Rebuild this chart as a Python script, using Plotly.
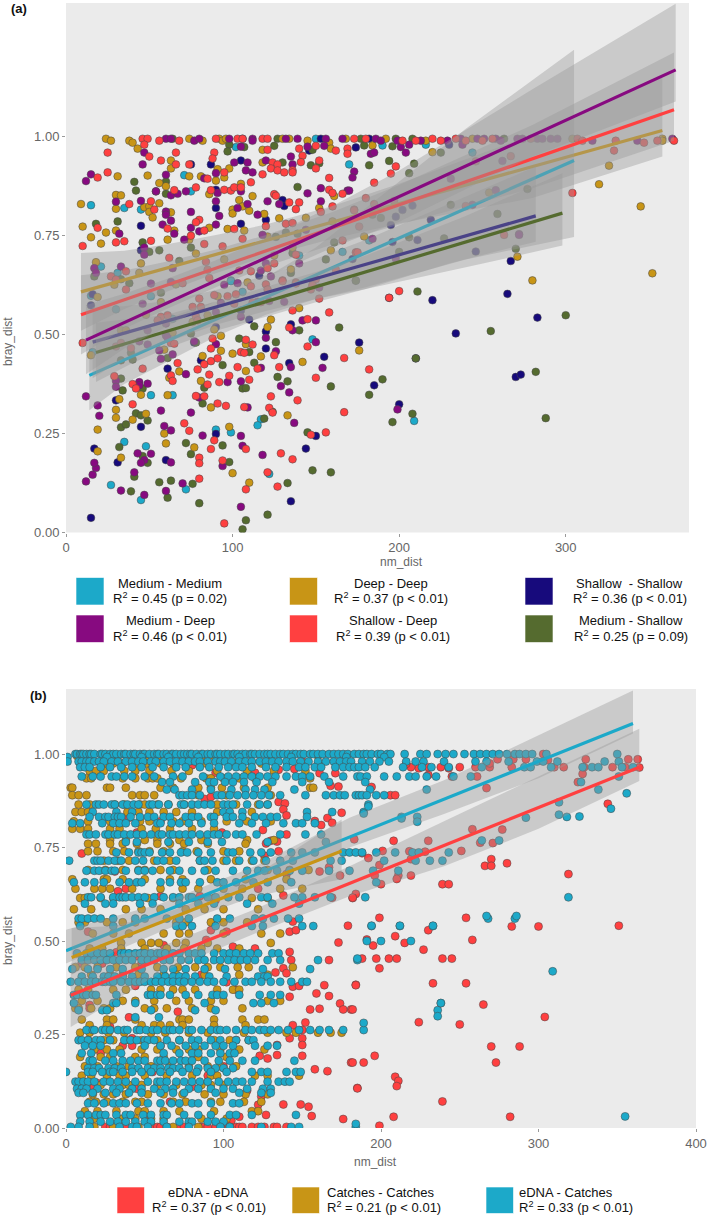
import plotly.graph_objects as go

W, H = 709, 1216

# ---------- panel (a) points: (nm_dist, bray_dist) ----------
medium_medium = [(102,.974),(15,.827),(35,.82),(45,.816),(71,.903),(75,.862),(21,.672),(31,.656),(99,.637),(15,.598),(30,.564),(51,.597),(106,.608),(99,.635),(16,.456),(148,.488),(51,.347),(64,.347),(117,.286),(115,.271),(90,.26),(99,.253),(35,.229),(48,.218),(122,.148),(72,.109),(45,.082),(27,.12),(209,.282),(140,.7),(216,.98),(190,.978),(244,.96),(170,.93),(182,.738),(166,.709),(64,.54),(150,.995)]
shallow_shallow = [(153,.995),(182,.995),(75,.93),(87,.93),(105,.94),(146,.965),(174,.973),(90,.866),(130,.84),(131,.825),(90,.82),(45,.775),(105,.78),(120,.79),(45,.713),(116,.649),(202,.815),(208,.826),(198,.798),(195,.777),(219,.79),(211,.739),(196,.734),(172,.691),(246,.71),(267,.686),(16,.602),(15,.574),(105,.561),(110,.538),(135,.526),(90,.519),(120,.508),(77,.48),(120,.465),(155,.444),(176,.48),(134,.428),(81,.435),(61,.414),(30,.334),(45,.267),(150,.244),(90,.249),(144,.212),(17,.212),(31,.177),(60,.183),(135,.079),(15,.037),(230,.98),(194,.593),(220,.587),(265,.603),(283,.543),(234,.503),(210,.44),(185,.372),(200,.324),(270,.393),(273,.399)]
medium_shallow = [(64,.995),(127,.995),(177,.995),(198,.995),(208,.995),(263,.995),(98,.98),(97,.963),(107,.974),(125,.977),(130,.935),(147,.928),(148,.967),(152,.933),(41,.886),(60,.887),(42,.864),(54,.862),(60,.856),(139,.873),(18,.78),(31,.786),(46,.733),(75,.72),(50,.709),(56,.713),(68,.686),(126,.747),(132,.758),(139,.755),(136,.706),(161,.733),(156,.69),(135,.656),(17,.647),(33,.64),(38,.63),(57,.606),(174,.637),(179,.978),(196,.976),(182,.928),(194,.939),(209,.932),(206,.908),(225,.96),(277,.868),(231,.828),(259,.805),(184,.803),(189,.795),(206,.746),(227,.743),(200,.709),(270,.717),(174,.636),(211,.609),(113,.521),(164,.518),(140,.511),(75,.503),(126,.481),(104,.49),(78,.48),(110,.456),(39,.454),(33,.435),(40,.437),(61,.441),(113,.429),(94,.423),(159,.369),(127,.393),(133,.382),(106,.364),(108,.365),(34,.359),(33,.389),(46,.364),(83,.366),(82,.326),(124,.305),(119,.288),(42,.301),(45,.296),(49,.283),(33,.266),(36,.273),(145,.253),(32,.216),(72,.226),(94,.22),(75,.198),(46,.193),(49,.176),(98,.178),(41,.141),(148,.157),(159,.152),(133,.125),(76,.123),(63,.131),(56,.127),(39,.104),(61,.088),(80,.074),(121,.045),(108,.031),(106,.008),(300,.549),(255,.509),(210,.44),(190,.387),(182,.348),(208,.3),(196,.279),(282,.406),(288,.289)]
deep_deep = [(24,.995),(27,.99),(38,.99),(40,.985),(74,.995),(82,.99),(92,.995),(94,.99),(96,.995),(130,.995),(134,.995),(145,.99),(158,.985),(168,.995),(192,.995),(216,.99),(244,.995),(304,.995),(358,.995),(43,.97),(63,.94),(63,.92),(98,.92),(118,.967),(118,.935),(159,.97),(31,.9),(49,.902),(56,.883),(60,.875),(74,.9),(81,.9),(91,.918),(95,.897),(90,.889),(105,.881),(86,.855),(112,.85),(104,.84),(9,.83),(30,.853),(33,.852),(30,.818),(47,.822),(50,.824),(50,.81),(56,.832),(52,.796),(63,.809),(100,.816),(100,.806),(106,.824),(110,.813),(119,.805),(161,.85),(152,.82),(10,.773),(15,.746),(24,.758),(30,.763),(21,.73),(65,.763),(86,.77),(74,.74),(97,.767),(107,.763),(128,.794),(121,.748),(144,.795),(160,.786),(61,.74),(78,.705),(95,.69),(136,.72),(125,.7),(135,.665),(159,.713),(18,.683),(44,.656),(45,.68),(29,.626),(109,.632),(220,.961),(184,.978),(326,.927),(320,.88),(345,.824),(352,.655),(254,.859),(179,.748),(271,.697),(280,.637),(66,.627),(57,.582),(19,.595),(91,.597),(140,.567),(48,.55),(85,.549),(33,.511),(36,.511),(64,.505),(76,.532),(15,.448),(123,.538),(121,.519),(89,.513),(93,.497),(108,.476),(93,.459),(100,.452),(117,.445),(59,.462),(82,.446),(142,.431),(176,.46),(68,.407),(108,.408),(62,.391),(81,.383),(45,.348),(61,.347),(32,.337),(87,.316),(30,.31),(30,.29),(48,.3),(40,.285),(133,.296),(59,.25),(19,.26),(60,.225),(98,.267),(77,.215),(19,.205),(33,.189),(100,.15),(110,.126),(358,.99)]
shallow_deep = [(46,.995),(49,.995),(56,.99),(68,.99),(90,.995),(103,.995),(106,.995),(118,.995),(121,.995),(173,.995),(180,.995),(202,.99),(210,.99),(220,.995),(225,.99),(234,.995),(240,.99),(250,.99),(256,.995),(279,.995),(307,.995),(310,.99),(330,.99),(347,.985),(355,.99),(365,.99),(25,.96),(47,.98),(50,.95),(57,.94),(66,.96),(66,.93),(74,.93),(89,.96),(88,.945),(124,.935),(127,.93),(123,.92),(127,.915),(131,.91),(136,.915),(136,.91),(118,.905),(121,.967),(140,.97),(150,.977),(162,.965),(169,.97),(169,.957),(142,.952),(141,.936),(150,.92),(152,.94),(19,.897),(25,.91),(85,.894),(95,.91),(65,.865),(78,.872),(87,.865),(95,.866),(99,.864),(101,.872),(105,.872),(111,.885),(158,.866),(160,.858),(158,.896),(125,.855),(126,.851),(38,.83),(51,.837),(53,.816),(134,.834),(140,.834),(138,.817),(19,.77),(30,.733),(35,.736),(10,.724),(51,.737),(61,.768),(80,.79),(78,.784),(75,.75),(83,.763),(101,.767),(120,.774),(132,.78),(136,.782),(106,.742),(83,.729),(94,.723),(160,.824),(166,.856),(153,.81),(173,.816),(166,.738),(62,.694),(84,.684),(138,.702),(125,.68),(121,.668),(130,.637),(138,.632),(111,.66),(148,.626),(150,.64),(162,.664),(174,.708),(27,.647),(36,.66),(30,.639),(70,.63),(85,.664),(86,.643),(104,.662),(329,.965),(246,.938),(267,.951),(198,.925),(195,.907),(185,.884),(304,.858),(240,.825),(180,.845),(197,.838),(185,.83),(173,.814),(176,.773),(263,.752),(175,.708),(200,.61),(194,.593),(36,.614),(111,.622),(89,.6),(97,.597),(102,.602),(120,.627),(121,.614),(130,.635),(138,.629),(147,.614),(148,.625),(152,.591),(80,.591),(76,.57),(81,.57),(101,.578),(112,.581),(117,.582),(136,.561),(158,.556),(145,.539),(134,.518),(57,.545),(61,.549),(55,.536),(78,.546),(79,.536),(63,.479),(65,.477),(39,.466),(30,.47),(33,.479),(10,.479),(88,.49),(87,.465),(108,.487),(112,.475),(105,.456),(107,.454),(125,.448),(115,.414),(128,.418),(145,.47),(167,.441),(150,.391),(123,.344),(139,.334),(167,.304),(122,.315),(124,.303),(147,.247),(156,.253),(136,.185),(129,.2),(121,.152),(127,.116),(95,.023),(108,.109),(80,.136),(29,.395),(40,.375),(42,.364),(46,.414),(63,.397),(64,.383),(67,.428),(83,.425),(87,.433),(79,.412),(91,.44),(103,.418),(86,.399),(85,.374),(78,.345),(83,.344),(91,.326),(92,.38),(98,.396),(110,.386),(107,.317),(96,.32),(40,.324),(71,.276),(74,.257),(89,.233),(108,.211),(87,.211),(80,.189),(80,.175),(94,.182),(182,.412)]
medium_deep = [(60,.995),(63,.995),(77,.99),(80,.995),(98,.995),(106,.995),(112,.995),(132,.995),(139,.995),(156,.995),(166,.995),(186,.995),(189,.99),(199,.99),(213,.99),(229,.99),(237,.995),(247,.995),(251,.995),(258,.995),(261,.99),(271,.995),(274,.995),(283,.995),(286,.995),(291,.995),(295,.995),(316,.99),(343,.99),(364,.995),(47,.96),(46,.93),(101,.935),(109,.935),(108,.915),(112,.91),(120,.94),(136,.93),(135,.95),(145,.975),(155,.977),(105,.975),(112,.99),(15,.905),(12,.888),(60,.904),(83,.895),(90,.908),(54,.862),(63,.852),(67,.856),(72,.862),(91,.858),(105,.862),(145,.857),(153,.87),(121,.837),(128,.83),(30,.836),(45,.838),(60,.811),(60,.803),(75,.81),(90,.837),(92,.8),(103,.82),(109,.83),(115,.803),(32,.755),(58,.778),(63,.788),(65,.755),(71,.74),(75,.77),(80,.761),(90,.778),(144,.765),(118,.752),(153,.837),(169,.864),(47,.72),(47,.702),(140,.68),(120,.68),(152,.619),(117,.662),(123,.647),(17,.668),(18,.656),(33,.672),(64,.668),(51,.629),(63,.633),(95,.626),(103,.63),(201,.974),(206,.98),(238,.98),(183,.957),(185,.96),(204,.96),(262,.939),(173,.912),(172,.897),(231,.894),(258,.865),(170,.864),(244,.828),(184,.742),(272,.754),(198,.692),(46,.578),(93,.58),(115,.583),(122,.585),(131,.583),(90,.557),(105,.545),(142,.536),(150,.536),(60,.528),(136,.511),(49,.511),(120,.492),(44,.483),(49,.475),(60,.498),(61,.492),(77,.483),(90,.476),(150,.481),(126,.458),(64,.45),(57,.439),(56,.46),(117,.416),(135,.418),(154,.416),(72,.4),(97,.38),(105,.382),(30,.383),(30,.368),(44,.38),(44,.372),(49,.376),(80,.341),(129,.37),(134,.354),(109,.316),(75,.303),(57,.308),(137,.277),(82,.245),(59,.269),(63,.258),(105,.244),(20,.295),(19,.321),(12,.344),(106,.219),(118,.196),(43,.2),(51,.199),(47,.183),(45,.176),(63,.177),(94,.168),(41,.152),(12,.129),(16,.146),(18,.163),(17,.176),(70,.124),(60,.105),(47,.095),(33,.106),(105,.065),(199,.311),(272,.752)]

# ---------- panel (a) fitted lines: [x0, x1], [y0, y1] ----------
a_deep_x, a_deep_y = [9, 358], [.608, 1.016]
a_medium_x, a_medium_y = [14, 305], [.397, .94]
a_shallow_x, a_shallow_y = [16, 282], [.481, .80]
a_shdeep_x, a_shdeep_y = [9, 365], [.55, 1.068]
a_medshal_x, a_medshal_y = [18, 298], [.455, .807]
a_meddeep_x, a_meddeep_y = [12, 366], [.486, 1.169]

# ---------- panel (a) ribbons ----------
rib_deep_x = [9, 35, 60, 90, 120, 160, 200, 280, 358]
rib_deep_hi = [.706, .712, .728, .752, .778, .825, .881, 1.005, 1.15]
rib_deep_lo = [.51, .565, .608, .655, .698, .742, .781, .845, .95]
rib_medium_x = [14, 35, 60, 90, 120, 150, 180, 240, 305]
rib_medium_hi = [.485, .505, .54, .585, .645, .72, .82, 1.02, 1.22]
rib_medium_lo = [.309, .375, .43, .495, .55, .59, .62, .69, .747]
rib_shallow_x = [16, 35, 60, 90, 120, 150, 180, 230, 282]
rib_shallow_hi = [.57, .572, .585, .613, .65, .692, .74, .83, .925]
rib_shallow_lo = [.39, .44, .48, .525, .56, .59, .615, .68, .735]
rib_shdeep_x = [9, 35, 60, 90, 120, 160, 200, 280, 365]
rib_shdeep_hi = [.65, .662, .684, .715, .752, .81, .878, 1.03, 1.213]
rib_shdeep_lo = [.45, .515, .564, .62, .672, .728, .778, .87, .99]
rib_medshal_x = [18, 40, 60, 90, 120, 150, 180, 240, 298]
rib_medshal_hi = [.53, .54, .55, .583, .62, .658, .70, .80, .908]
rib_medshal_lo = [.38, .428, .465, .51, .545, .582, .615, .67, .725]
rib_meddeep_x = [12, 35, 60, 90, 120, 160, 200, 280, 366]
rib_meddeep_hi = [.575, .603, .64, .688, .745, .825, .915, 1.12, 1.336]
rib_meddeep_lo = [.40, .465, .52, .585, .645, .72, .785, .95, 1.089]

# ---------- panel (b) points: rows of (bray_dist, [nm_dist, ...]) ----------
catches_edna_rows = [
 (1.0,[6,7,9,10,11,13,15,16,18,22,23,25,28,30,32,35,37,38,41,43,44,47,49,50,53,56,58,59,62,64,67,68,70,73,75,77,79,80,83,86,87,90,92,95,96,98,101,103,106,107,109,112,114,117,118,120,123,126,128,130,133,136,138,141,144,146,149,151,155,157,160,163,167,170,173,176,179,183,186,189,191,194,198,200,204,206,215,225,229,236,241,246,253,259,263,267,271,275,280,285,288,292,296,305,350]),
 (.992,[1,26,48,65,84,110,143,178,202]),
 (.98,[1,8,10,13,15,18,21,24,29,33,38,42,46,49,54,57,62,66,70,74,78,82,85,90,95,98,101,105,110,114,118,123,127,131,135,140,144,149,154,160,165,170,174,178,181,188,193,199,205,216,222,227,240,260,267,281,299,303,312,351,342]),
 (.965,[9,12,15,22,28,35,42,48,55,62,70,76,85,91,97,103,108,112,118,127,133,140,148,152,158,162,171,176,180,183,186,190,196,214,226,232,243,264,291,295,308,328,334,338,353,360]),
 (.94,[10,17,22,29,32,37,42,50,56,68,74,87,98,103,108,113,118,123,128,133,140,146,150,155,164,176,185,187,191,202,210,218,222,229,235,246,257,351]),
 (.925,[61,66,82,91,94,101,106,113,121,131,150,167,190,327]),
 (.905,[64,69,80,92,105,114,120,126,145,193,229]),
 (.89,[72,74,77,80,85,96,99,104,109,114,119,124,129,136,152,165,170,174,177,184,186,188,191,197,202]),
 (.865,[13,19,21,24,29,31,36,39,43,46,53,55,59,65,73,75,80,84,88,92,100,103,106,115,123,128,192]),
 (.845,[17,32,42,100,104,112,153,169,189]),
 (.832,[15,21,25,27,31,33,35,41,47,52,56,62,66,76,80,84,92,94,102,106,112,120,125,130,134,153,213,223]),
 (.815,[4,9,23,30,34,38,44,58,60,67,72,78,86,94,110,118,127,138,146,150,158]),
 (.785,[13,15,19,25,27,31,33,37,41,45,49,54,59,61,66,68,72,76,80,85,90,94,97,102,108,112,121,136,152,162]),
 (.765,[38,45,65,78,90,99,128,165]),
 (.737,[32,40,46,48,50,53,61,66,73,77,84,92,103,106,117,124,130,143,150,158,176,180,184,188,197,209,220,224,243]),
 (.715,[2,18,20,22,27,31,35,44,49,58,62,70,85,88,93,102,110,119,127,136,144,168,175,202,222,231,239]),
 (.688,[13,18,21,25,29,31,38,46,50,55,66,72,80,88,95,106,115,122,126,134,142,150,167,180,195,211]),
 (.657,[5,12,18,24,34,40,45,48,60,66,73,76,85,96,100,108,119,128,143,197]),
 (.617,[14,16,22,30,34,36,38,42,46,50,56,62,68,72,78,80,90,95,103,110,124,128,145,150,158,168,190,319]),
 (.6,[12,25,30,47,55,72,84,94,115,131,148]),
 (.56,[8,10,14,18,22,30,44,50,64,72,78,96,104,120,125,132,141,148,268,285]),
 (.54,[9,30,70,74,80,95,118,125,150,157,194,212,233]),
 (.5,[191,200,219]),
 (.467,[7,13,16,20,24,28,35,37,40,44,47,50,54,58,60,63,68,72,78,82,86,94,100,104,108,113,117,122,131,135]),
 (.449,[10,14,18,22,26,30,34,38,42,48,52,56,62,66,73,78,84,88,94,98,103,107,111,115,120,128,136,160,185]),
 (.425,[4,14,20,28,36,48,62,68,76,88,101,125,155]),
 (.405,[10,17,24,27,31,36,42,50,58,63,68,72,76,82,91,102,122,126,128]),
 (.391,[3,8,12,16,19,23,25,28,30,35,40,44,47,50,54,57,61,65,68,72,75,80,85,90,94,100,107,114,118,124,130,136,143,150,153]),
 (.356,[5,7,11,13,17,19,32,52,54,58,60,66,76,84,93,96,100,110,123,130,136]),
 (.334,[5,30,32,44,88,119,132,124,238]),
 (.315,[8,23,26,54,82,95,236]),
 (.296,[44,59]),
 (.262,[13,17,18,23,25,28,33,37,39,45,47,51,55,58,63,66,68,72,78,80,86,92,96,98,102,108,114,118,123,126,130,135,141,148,155,161,167,176,189]),
 (.235,[8,10,14,19,22,28,37,41,45,50,52,56,64,72,80,84,92,98,108,116,119]),
 (.22,[12,17,22,50,60,67,76,82,88,95,100,106,120,128,134]),
 (.2,[10,16,30,35,62,72,80,84,92,98,104,107]),
 (.18,[15,17,25,30,36,41,46,50,58,60,63,68,73,76,80,88,97,104,112,120,145]),
 (.16,[14,18,21,27,31,35,42,46,52,56,60,65,68,72,78,84,90,95,100,106]),
 (.15,[0,14,17,23,28,30,36,42,48,54,60,66,74,83,92,102,118,124,128,140,146,149]),
 (.124,[6,8,11,14,18,24,28,33,38,44,52,58,60,64,70,75,80,85,90,97,103,108,112,118,128,135,139,142]),
 (.105,[7,10,13,20,30,34,42,48,56,63,68,78,84,92,100,106,115,125,130]),
 (.094,[8,11,17,25,32,40,48,60,68,75,95,110,124,130]),
 (.066,[14,18,24,30,34,38,45,52,60,67,72,80,84,92,106,110]),
 (.035,[9,14,19,22,25,32,38,41,49,54,62,64,75,84,92,104,108,118,146]),
 (.017,[9,15,22,28,33,38,44,50,54,62,72,78,80,90,95,100]),
 (.003,[3,8,15,34,42,45,52,64,78,98,104,124,143,148,184]),
 (.567,[267,286]), (.541,[233,212,194]), (.453,[185]), (.419,[309]), (.334,[238]), (.299,[236]), (.281,[189]), (.031,[355]), (.011,[184]),
 (.86,[192]), (.841,[189]), (.828,[213]), (.819,[223]), (.769,[264,275]), (.83,[292]), (.871,[313]), (.838,[313]), (.832,[318]), (.833,[326]), (.905,[338]), (.895,[356]), (.854,[346]),
]
catches_rows = [
 (.995,[7,9,12,16,24,33,42,52,60,74,86,94,110,130,160]),
 (.975,[9,14,26,30,36,44,51,60,68,76,89,108,124,160]),
 (.955,[15,19,24,37,44,53,67,78,96,115,132,152]),
 (.935,[13,16,36,44,52,55,58,73,89,92,100,110,120,155]),
 (.91,[3,4,26,28,38,60,68,84,92,99,113,128,155,157]),
 (.89,[4,8,13,42,47,50,56,84,102,130]),
 (.865,[8,15,31,37,47,50,58,65,75,96,108,122,128]),
 (.845,[6,10,14,39,46,53,62,70,80,96,118]),
 (.82,[5,14,28,47,53,68,74,86,102,115,130]),
 (.8,[4,9,14,28,34,48,57,66,80,94]),
 (.77,[28,38,50,58,72,86,115,132]),
 (.76,[14,19,28,36,45,58,66,75,90,114]),
 (.74,[14,20,30,37,46,53,62,74,83,100,110]),
 (.715,[24,33,40,56,66,85,100,108,118,126]),
 (.69,[14,25,36,46,50,60,68,90,128,142,154]),
 (.665,[4,24,26,36,50,66,74,92,114,140]),
 (.64,[6,18,23,28,42,60,74,84,100,112,136,150]),
 (.615,[9,12,22,30,52,68,80,94,118,128]),
 (.585,[5,16,38,48,60,76,88,100,122]),
 (.55,[8,12,26,36,44,70,76,92,100,115]),
 (.52,[17,30,40,62,72,78,100,124,136]),
 (.495,[35,48,54,59,70,76,90,130]),
 (.48,[15,23,35,50,64,75,86,96,110]),
 (.43,[6,12,20,32,44,58,71,82,90,98,109,116,144]),
 (.41,[16,28,36,46,62,70,88,110,128]),
 (.37,[8,14,30,38,54,60,68,74,82,96,106,110]),
 (.34,[10,20,36,44,56,70,78,92,100,128,136]),
 (.32,[6,8,16,24,28,50,56,64,80,92,112]),
 (.29,[10,26,30,44,72,74,78,94,112,122,126]),
 (.275,[15,26,48,56,60,66,74,94,114]),
 (.255,[9,15,27,37,54,63,78,90,113,128,140,146,160,168,175]),
 (.235,[14,24,30,38,48,58,72,94,104,116]),
 (.21,[18,26,34,48,58,70,78,84,98,110,126]),
 (.19,[9,22,28,44,50,62,84,102]),
 (.165,[12,20,32,40,54,66,78,90,98,108]),
 (.14,[10,16,26,34,38,50,64,80,92,96,120,128,148]),
 (.115,[13,22,36,40,48,58,70,86,92,100]),
 (.09,[17,24,30,38,52,62,74,88,100,114,128]),
 (.07,[15,19,26,36,44,48,68,76,92,98,113,124]),
 (.045,[12,20,32,46,50,62,72,94,118,122]),
 (.025,[18,36,44,54,62,86,102]),
 (.003,[18,30,46,68,84,104]),
]
edna_pts = [(199,.562),(254,.562),(283,.539),(300,.539),(351,.541),(230,.529),(209,.513),(258,.503),(191,.504),(195,.488),(215,.495),(227,.477),(188,.453),(197,.453),(205,.453),(210,.453),(239,.453),(245,.453),(199,.427),(233,.387),(254,.387),(184,.383),(265,.33),(304,.297),(181,.317),(224,.283),(250,.277),(270,.218),(288,.218),(196,.193),(181,.175),(189,.175),(273,.175),(209,.137),(211,.126),(210,.112),(185,.107),(239,.071),(208,.03),(282,.03),(199,.006),
 (183,.772),(208,.768),(230,.768),(251,.741),(263,.763),(271,.762),(277,.798),(258,.799),(188,.735),(192,.722),(199,.703),(201,.741),(218,.74),(228,.739),(219,.719),(270,.719),(266,.701),(270,.701),(280,.708),(196,.675),(211,.675),(210,.666),(219,.675),(200,.652),(239,.652),(243,.652),(184,.626),(182,.615),(319,.679),(344,.867),(267,.909),(261,.94),(245,.94),(230,.944),(230,.965),(224,.962),(219,.965),(238,.965),(243,.962),(250,.965),(260,.965),(269,.965),(283,.965),(310,.965),(316,.965),(292,.986),(306,.984),(330,.986),(347,.965),(357,.986),(363,.986),(355,.965),(364,.964),(325,.925),(328,.947),(329,.965),(206,.89),(209,.89),(194,.912),(303,1.0),(274,.986),(284,.986),(269,.975),(216,.974),
 (10,.734),(31,.686),(38,.64),(33,.633),(135,.958),(161,.949),(171,.949),(168,.915),(173,.913),(135,.872),(139,.868),(138,.852),(140,.836),(166,.829),(169,.816),(175,.843),(158,.821),(162,.81),(125,.797),(140,.785),(130,.768),(134,.766),(127,.761),(135,.74),(126,.728),(161,.686),(174,.675),(167,.697),(140,.679),(122,.64),(169,.616),(182,.616),(138,.622),
 (179,.541),(173,.496),(167,.449),(144,.552),(142,.525),(146,.529),(120,.48),(106,.485),(89,.503),(102,.525),(14,.525),(92,.529),(62,.489),(143,.449),(142,.471),(138,.427),(140,.414),(133,.416),(164,.382),(144,.378),(148,.38),(184,.382),(159,.36),(167,.353),(142,.351),(174,.333),(155,.317),(161,.319),(176,.317),(182,.317),(71,.311),(40,.296),(152,.282),(144,.275),(150,.262),(15,.329),(15,.32),(142,.24),(150,.24),(150,.222),(134,.222),(108,.235),(150,.193),(134,.195),(123,.193),(128,.186),(182,.175),(166,.152),(158,.157),(185,.106),(138,.063),(149,.063),(154,.057),(156,.032),(176,.024),(127,.035),(122,.062),(124,.084),
 (25,.003),(28,.003),(33,.003),(38,.003),(55,.003),(58,.003),(60,.003),(64,.003),(72,.003),(75,.003),(85,.003),(88,.003),(90,.003),(95,.003),(100,.003),(103,.003),(108,.003),(110,.003),(112,.003),(118,.003),(122,.003),(126,.003),(132,.003),(134,.003),(140,.003),(12,.04),(22,.2),(66,.07),(52,.03),(110,.03),(105,.02),(44,.38),(86,.41),(102,.39),(108,.37),(45,.46),(60,.46),(48,.44),(23,.44),(10,.44),(32,.47),(36,.22),(42,.22),(60,.22),(55,.15),(90,.14),(20,.12),(16,.11),(45,.105),(80,.11),(100,.165),(115,.1),(28,.27),(42,.24),(60,.62),(85,.62),(95,.61),(40,.83),(45,.79),(60,.82),(88,.88),(92,.885),(99,.79),(120,.95),(145,.96),(150,.98),(80,.97),(50,.98),(95,.95)]

# ---------- panel (b) fitted lines and ribbons ----------
b_edna_x, b_edna_y = [3, 364], [.355, .965]
b_catches_x, b_catches_y = [3.6, 175], [.456, .741]
b_mixed_x, b_mixed_y = [0, 360], [.474, 1.082]
rib_edna_x = [3, 60, 120, 180, 240, 300, 364]
rib_edna_hi = [.44, .485, .585, .70, .82, .94, 1.068]
rib_edna_lo = [.27, .415, .52, .62, .70, .80, .928]
rib_catches_x = [3.6, 30, 60, 90, 120, 175]
rib_catches_hi = [.535, .54, .57, .617, .675, .825]
rib_catches_lo = [.41, .47, .525, .575, .62, .665]
rib_mixed_x = [0, 60, 120, 180, 240, 300, 360]
rib_mixed_hi = [.53, .60, .70, .83, .93, 1.05, 1.17]
rib_mixed_lo = [.44, .55, .655, .75, .84, .935, 1.055]

# ---------- legends ----------
legend_a = [
 ("Medium - Medium", "R<sup>2</sup> = 0.45 (p = 0.02)", "#1CA9C9"),
 ("Deep - Deep", "R<sup>2</sup> = 0.37 (p < 0.01)", "#C89516"),
 ("Shallow  - Shallow", "R<sup>2</sup> = 0.36 (p < 0.01)", "#170A7C"),
 ("Medium - Deep", "R<sup>2</sup> = 0.46 (p < 0.01)", "#870A80"),
 ("Shallow - Deep", "R<sup>2</sup> = 0.39 (p < 0.01)", "#FF4040"),
 ("Medium - Shallow", "R<sup>2</sup> = 0.25 (p = 0.09)", "#556B2F"),
]
legend_b = [
 ("eDNA - eDNA", "R<sup>2</sup> = 0.37 (p < 0.01)", "#FF4040"),
 ("Catches - Catches", "R<sup>2</sup> = 0.21 (p < 0.01)", "#C89516"),
 ("eDNA - Catches", "R<sup>2</sup> = 0.33 (p < 0.01)", "#1CA9C9"),
]

C = {l[0]: l[2] for l in legend_a + legend_b}
GREY_RIB = "rgba(153,153,153,0.40)"
EDGE = "rgba(70,70,70,0.75)"
fig = go.Figure()


def unrow(rows):
    xs, ys = [], []
    for y, row in rows:
        for x in row:
            xs.append(x)
            ys.append(y)
    return xs, ys


def points(xs, ys, color, xa, ya, size=7.7):
    fig.add_trace(go.Scatter(x=list(xs), y=list(ys), mode="markers", xaxis=xa, yaxis=ya,
                             marker=dict(size=size, color=color, line=dict(color=EDGE, width=0.7)),
                             showlegend=False, hoverinfo="skip"))


def smooth(rx, lo, hi, lx, ly, color, xa, ya):
    fig.add_trace(go.Scatter(x=rx + rx[::-1], y=hi + lo[::-1], mode="lines", xaxis=xa, yaxis=ya,
                             fill="toself", fillcolor=GREY_RIB, line=dict(width=0),
                             showlegend=False, hoverinfo="skip"))
    fig.add_trace(go.Scatter(x=lx, y=ly, mode="lines", xaxis=xa, yaxis=ya,
                             line=dict(color=color, width=3.2), showlegend=False, hoverinfo="skip"))


for pts, name in [(medium_medium, "Medium - Medium"), (shallow_shallow, "Shallow  - Shallow"),
                  (medium_shallow, "Medium - Shallow"), (deep_deep, "Deep - Deep"),
                  (medium_deep, "Medium - Deep"), (shallow_deep, "Shallow - Deep")]:
    xs, ys = zip(*pts)
    points(xs, ys, C[name], "x", "y")

smooth(rib_deep_x, rib_deep_lo, rib_deep_hi, a_deep_x, a_deep_y, C["Deep - Deep"], "x", "y")
smooth(rib_medium_x, rib_medium_lo, rib_medium_hi, a_medium_x, a_medium_y, C["Medium - Medium"], "x", "y")
smooth(rib_shallow_x, rib_shallow_lo, rib_shallow_hi, a_shallow_x, a_shallow_y, C["Shallow  - Shallow"], "x", "y")
smooth(rib_shdeep_x, rib_shdeep_lo, rib_shdeep_hi, a_shdeep_x, a_shdeep_y, C["Shallow - Deep"], "x", "y")
smooth(rib_medshal_x, rib_medshal_lo, rib_medshal_hi, a_medshal_x, a_medshal_y, C["Medium - Shallow"], "x", "y")
smooth(rib_meddeep_x, rib_meddeep_lo, rib_meddeep_hi, a_meddeep_x, a_meddeep_y, C["Medium - Deep"], "x", "y")

xs, ys = zip(*edna_pts)
points(xs, ys, C["eDNA - eDNA"], "x2", "y2", 8)
xs, ys = unrow(catches_rows)
points(xs, ys, C["Catches - Catches"], "x2", "y2", 8)
xs, ys = unrow(catches_edna_rows)
points(xs, ys, C["eDNA - Catches"], "x2", "y2", 8)

smooth(rib_edna_x, rib_edna_lo, rib_edna_hi, b_edna_x, b_edna_y, C["eDNA - eDNA"], "x2", "y2")
smooth(rib_mixed_x, rib_mixed_lo, rib_mixed_hi, b_mixed_x, b_mixed_y, C["eDNA - Catches"], "x2", "y2")
smooth(rib_catches_x, rib_catches_lo, rib_catches_hi, b_catches_x, b_catches_y, C["Catches - Catches"], "x2", "y2")

PX = lambda v: v / W
PY = lambda v: 1 - v / H
axis_style = dict(showgrid=False, zeroline=False, showline=False, ticks="outside", ticklen=3, tickwidth=1,
                  automargin=False, tickcolor="#9a9a9a",
                  tickfont=dict(family="Liberation Sans, Arial", size=13, color="#666666"))
layout = dict(
    width=W, height=H, margin=dict(l=0, r=0, t=0, b=0), plot_bgcolor="white", paper_bgcolor="white",
    showlegend=False,
    xaxis=dict(domain=[PX(66), PX(689)], range=[0, 374], tickvals=[0, 100, 200, 300], anchor="y", **axis_style),
    yaxis=dict(domain=[PY(532.5), PY(3)], range=[0, 1.338], tickvals=[0, .25, .5, .75, 1], tickformat=".2f", anchor="x", **axis_style),
    xaxis2=dict(domain=[PX(66), PX(696)], range=[0, 400], tickvals=[0, 100, 200, 300, 400], anchor="y2", **axis_style),
    yaxis2=dict(domain=[PY(1128), PY(689)], range=[0, 1.174], tickvals=[0, .25, .5, .75, 1], tickformat=".2f", anchor="x2", **axis_style),
)

shapes, ann = [], []
for (x0, y0, x1, y1) in [(66, 3, 689, 532.5), (66, 689, 696, 1128)]:
    shapes.append(dict(type="rect", xref="paper", yref="paper", x0=PX(x0), x1=PX(x1), y0=PY(y1), y1=PY(y0),
                       fillcolor="#EBEBEB", line=dict(width=0), layer="below"))


def label(text, x, y, size=13, color="#111111", angle=0, bold=False, xanchor="center"):
    ann.append(dict(text=f"<b>{text}</b>" if bold else text, xref="paper", yref="paper", x=PX(x), y=PY(y),
                    xanchor=xanchor, yanchor="middle", showarrow=False, textangle=angle,
                    font=dict(family="Liberation Sans, Arial", size=size, color=color)))


def swatch(x0, y0, x1, y1, color):
    shapes.append(dict(type="rect", xref="paper", yref="paper", x0=PX(x0), x1=PX(x1), y0=PY(y1), y1=PY(y0),
                       fillcolor=color, line=dict(color="rgba(255,255,255,0.6)", width=1)))


cells_a = [(76, 170, 577.5), (289.5, 391, 577.5), (525, 629.5, 577.5), (76, 170, 615), (289.5, 393, 615), (525, 631, 615)]
for (t1, t2, col), (sx, cx, sy) in zip(legend_a, cells_a):
    swatch(sx, sy, sx + 28, sy + 27.5, col)
    label(t1, cx, sy + 5.5)
    label(t2, cx, sy + 20.5)
cells_b = [(117, 208.6, "center"), (292, 324.5, "left"), (486, 517, "left")]
for (t1, t2, col), (sx, cx, anc) in zip(legend_b, cells_b):
    swatch(sx, 1187, sx + 27.5, 1213.5, col)
    label(t1, cx, 1192, xanchor=anc)
    label(t2, cx, 1207, xanchor=anc)

label("nm_dist", 401, 561.5, size=12, color="#666666")
label("nm_dist", 376, 1162, size=12, color="#666666")
label("bray_dist", 8, 342, size=12, color="#666666", angle=-90)
label("bray_dist", 8, 941, size=12, color="#666666", angle=-90)
label("(a)", 18.5, 8.5, size=13, color="#111111", bold=True)
label("(b)", 38, 696, size=13, color="#111111", bold=True)

fig.update_layout(shapes=shapes, annotations=ann, **layout)
fig.write_html("out.html", config=dict(displayModeBar=False),
               post_script="document.body.style.margin='0';document.body.style.overflow='hidden';")
